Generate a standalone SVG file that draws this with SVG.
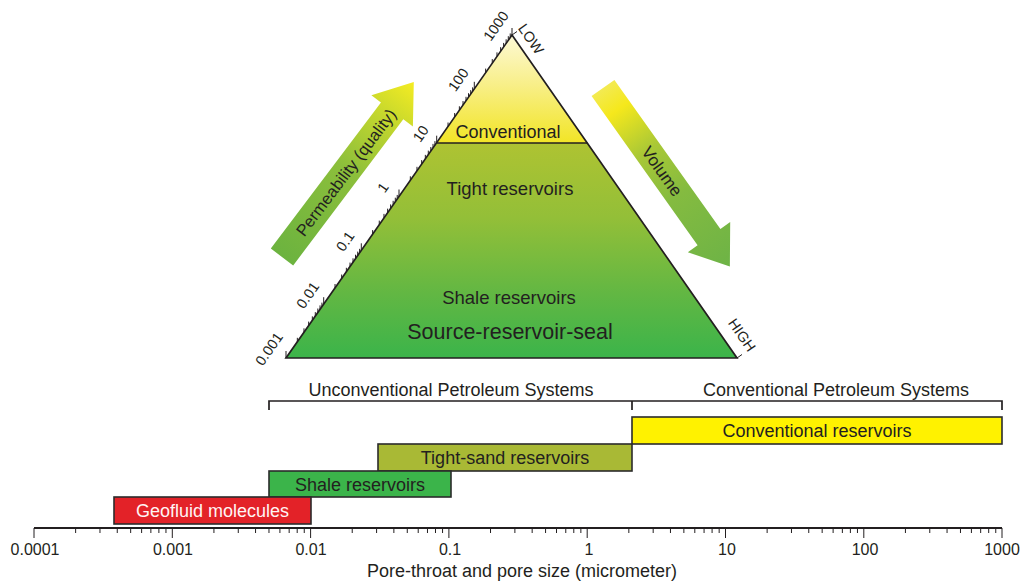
<svg xmlns="http://www.w3.org/2000/svg" width="1029" height="583" viewBox="0 0 1029 583">
  <defs>
    <style>
      .t { font-family: "Liberation Sans", Arial, Helvetica, sans-serif; fill: #231f20; }
      .ln { stroke: #231f20; stroke-width: 1.7; fill: none; }
      .tick { stroke: #231f20; stroke-width: 1; fill: none; }
      .bar { stroke: #2b2b2b; stroke-width: 1.6; }
      .lbl18 { font-size: 18px; text-anchor: middle; }
      .scale { font-size: 14.5px; text-anchor: middle; }
    </style>
    <!-- triangle fills -->
    <linearGradient id="gConv" x1="0" y1="35" x2="0" y2="143" gradientUnits="userSpaceOnUse">
      <stop offset="0" stop-color="#fdf9d6"/>
      <stop offset="0.45" stop-color="#f8ef8a"/>
      <stop offset="1" stop-color="#f2e526"/>
    </linearGradient>
    <linearGradient id="gLow" x1="0" y1="143" x2="0" y2="358" gradientUnits="userSpaceOnUse">
      <stop offset="0" stop-color="#aec332"/>
      <stop offset="0.35" stop-color="#93bf38"/>
      <stop offset="0.7" stop-color="#62b743"/>
      <stop offset="1" stop-color="#3bb44a"/>
    </linearGradient>
    <!-- arrow fills, in the arrow's own frame (0 = tail, 219 = tip) -->
    <linearGradient id="gPerm" x1="0" y1="0" x2="219" y2="0" gradientUnits="userSpaceOnUse">
      <stop offset="0" stop-color="#6cb33f"/>
      <stop offset="0.5" stop-color="#8cbf3b"/>
      <stop offset="0.78" stop-color="#c2d62e"/>
      <stop offset="1" stop-color="#f5ec22"/>
    </linearGradient>
    <linearGradient id="gVol" x1="0" y1="0" x2="219" y2="0" gradientUnits="userSpaceOnUse">
      <stop offset="0" stop-color="#f3ea52"/>
      <stop offset="0.12" stop-color="#f5e81c"/>
      <stop offset="0.35" stop-color="#a9c836"/>
      <stop offset="0.6" stop-color="#84bb40"/>
      <stop offset="1" stop-color="#6db346"/>
    </linearGradient>
    <path id="arrowShape" d="M0 -14H183V-26L219 0L183 26V14H0Z"/>
    <!-- one decade of log ticks on the triangle's left edge, relative to its lower major point -->
    <path id="tdec" class="tick" d="M0 0v-7M11.34 -16.2v-4M17.97 -25.68v-4M22.67 -32.41v-4M26.33 -37.63v-4M29.31 -41.89v-4M31.83 -45.49v-4M34.01 -48.61v-4M35.93 -51.36v-4"/>
    <!-- one decade of log ticks on the size axis -->
    <path id="adec" class="tick" d="M0 0v10M41.63 0v5M65.98 0v5M83.26 0v5M96.67 0v5M107.61 0v5M116.87 0v5M124.89 0v5M131.96 0v5"/>
  </defs>

  <rect x="0" y="0" width="1029" height="583" fill="#ffffff"/>

  <!-- resource triangle -->
  <g id="triangle">
    <polygon points="512,35 436.7,143 587.2,143" fill="url(#gConv)"/>
    <polygon points="436.7,143 587.2,143 737,358 286,358" fill="url(#gLow)"/>
    <polygon class="ln" points="512,35 737,358 286,358" stroke-linejoin="miter"/>
    <line class="ln" x1="436.7" y1="143" x2="587.2" y2="143"/>
    <!-- permeability scale -->
    <path class="tick" d="M512 35v-7"/>
    <use href="#tdec" x="474.3" y="88.8"/>
    <use href="#tdec" x="436.7" y="142.7"/>
    <use href="#tdec" x="399" y="196.5"/>
    <use href="#tdec" x="361.3" y="250.3"/>
    <use href="#tdec" x="323.7" y="304.2"/>
    <use href="#tdec" x="286" y="358"/>
    <text class="t scale" transform="translate(496,26) rotate(-55)" y="5">1000</text>
    <text class="t scale" transform="translate(458.3,79.8) rotate(-55)" y="5">100</text>
    <text class="t scale" transform="translate(420.7,133.7) rotate(-55)" y="5">10</text>
    <text class="t scale" transform="translate(383,187.5) rotate(-55)" y="5">1</text>
    <text class="t scale" transform="translate(345.3,241.3) rotate(-55)" y="5">0.1</text>
    <text class="t scale" transform="translate(307.7,295.2) rotate(-55)" y="5">0.01</text>
    <text class="t scale" transform="translate(269,349) rotate(-55)" y="5">0.001</text>
    <!-- volume scale ends -->
    <path class="tick" d="M512 35l5 -3.5M737 358l5 -3.5"/>
    <text class="t" font-size="14.5" text-anchor="middle" transform="translate(531,39) rotate(55)" y="5">LOW</text>
    <text class="t" font-size="14.5" text-anchor="middle" transform="translate(742,335) rotate(55)" y="5">HIGH</text>
    <!-- zone labels -->
    <text class="t" font-size="18" text-anchor="middle" x="508" y="138">Conventional</text>
    <text class="t" font-size="18.5" text-anchor="middle" x="510" y="195">Tight reservoirs</text>
    <text class="t" font-size="18.5" text-anchor="middle" x="509" y="304">Shale reservoirs</text>
    <text class="t" font-size="21.5" text-anchor="middle" x="510" y="339">Source-reservoir-seal</text>
  </g>

  <!-- permeability arrow -->
  <g id="permeability-arrow" transform="translate(282,257) rotate(-53)">
    <use href="#arrowShape" fill="url(#gPerm)"/>
    <text class="t" font-size="16.5" text-anchor="middle" x="106" y="6">Permeability (quality)</text>
  </g>

  <!-- volume arrow -->
  <g id="volume-arrow" transform="translate(603,88) rotate(54.6)">
    <use href="#arrowShape" fill="url(#gVol)"/>
    <text class="t" font-size="17" text-anchor="middle" x="102" y="6">Volume</text>
  </g>

  <!-- petroleum system brackets -->
  <g id="system-brackets">
    <path class="ln" d="M269 410V401H1002V410M632 401V410"/>
    <text class="t lbl18" x="451" y="396">Unconventional Petroleum Systems</text>
    <text class="t lbl18" x="836" y="396">Conventional Petroleum Systems</text>
  </g>

  <!-- size ranges -->
  <g id="bar-conventional">
    <rect class="bar" x="632" y="417" width="370" height="27" fill="#fff200"/>
    <text class="t lbl18" x="817" y="436.5">Conventional reservoirs</text>
  </g>
  <g id="bar-tight-sand">
    <rect class="bar" x="378" y="444" width="254" height="27" fill="#a9b935"/>
    <text class="t lbl18" x="505" y="463.5">Tight-sand reservoirs</text>
  </g>
  <g id="bar-shale">
    <rect class="bar" x="269" y="471" width="182" height="26" fill="#3bb44a"/>
    <text class="t lbl18" x="360" y="490.5">Shale reservoirs</text>
  </g>
  <g id="bar-geofluid">
    <rect class="bar" x="114" y="497" width="197" height="27" fill="#e32228"/>
    <text class="t lbl18" x="212.5" y="517" style="fill:#fff4f4">Geofluid molecules</text>
  </g>

  <!-- pore size axis -->
  <g id="size-axis">
    <line x1="34" y1="528" x2="1002" y2="528" stroke="#231f20" stroke-width="2"/>
    <use href="#adec" x="34" y="528"/>
    <use href="#adec" x="172.3" y="528"/>
    <use href="#adec" x="310.6" y="528"/>
    <use href="#adec" x="448.9" y="528"/>
    <use href="#adec" x="587.2" y="528"/>
    <use href="#adec" x="725.5" y="528"/>
    <use href="#adec" x="863.8" y="528"/>
    <path class="tick" d="M1002 528v10"/>
    <g class="t" font-size="16" text-anchor="middle">
      <text x="35" y="555">0.0001</text>
      <text x="173" y="555">0.001</text>
      <text x="311" y="555">0.01</text>
      <text x="450" y="555">0.1</text>
      <text x="589" y="555">1</text>
      <text x="727" y="555">10</text>
      <text x="865" y="555">100</text>
      <text x="1002" y="555">1000</text>
    </g>
    <text class="t" font-size="18" text-anchor="middle" x="522" y="577">Pore-throat and pore size (micrometer)</text>
  </g>
</svg>
